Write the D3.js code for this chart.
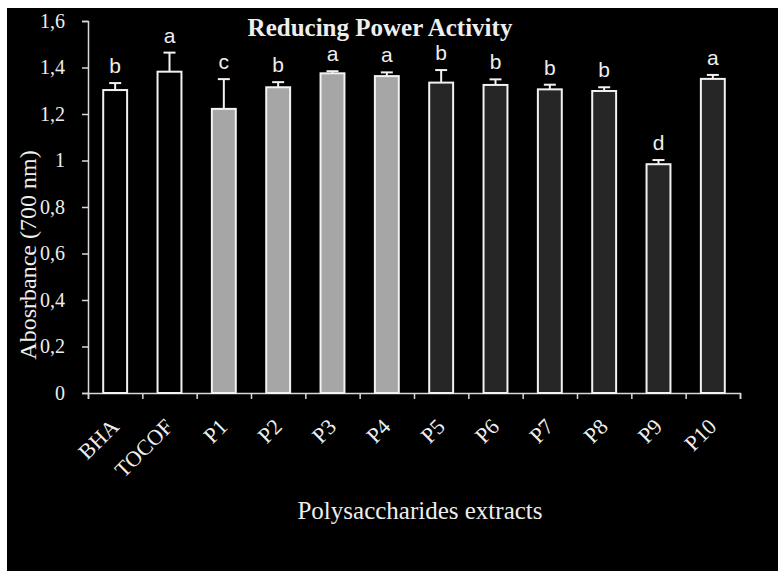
<!DOCTYPE html>
<html>
<head>
<meta charset="utf-8">
<script src="https://cdn.jsdelivr.net/npm/d3@7"></script>
<style>
  body { margin: 0; background: #fff; }
  svg { display: block; }
</style>
</head>
<body>
<svg id="chart" width="778" height="574"></svg>
<script>
// values
var categories = ['BHA', 'TOCOF', 'P1', 'P2', 'P3', 'P4', 'P5', 'P6', 'P7', 'P8', 'P9', 'P10'];
var values = [1.303, 1.382, 1.222, 1.315, 1.375, 1.363, 1.335, 1.325, 1.306, 1.299, 0.984, 1.351];
var errors = [0.030, 0.082, 0.128, 0.022, 0.009, 0.016, 0.054, 0.024, 0.020, 0.016, 0.018, 0.017];
var letters = ['b', 'a', 'c', 'b', 'a', 'a', 'b', 'b', 'b', 'b', 'd', 'a'];
var groups = ['std', 'std', 'g1', 'g1', 'g1', 'g1', 'g2', 'g2', 'g2', 'g2', 'g2', 'g2'];
var yTicks = [0, 0.2, 0.4, 0.6, 0.8, 1, 1.2, 1.4, 1.6];

var fills = {std: '#000', g1: '#a6a6a6', g2: '#262626'};
var serif = '"Liberation Serif", "Times New Roman", serif';
var sans = '"Liberation Sans", Arial, sans-serif';

var svg = d3.select('#chart');

svg.append('rect')
    .attr('x', 7).attr('y', 8)
    .attr('width', 771).attr('height', 563)
    .attr('fill', '#000');

var x = d3.scaleBand()
    .domain(categories)
    .range([88, 740])
    .paddingInner(0.56)
    .paddingOuter(0.28);

var xEdge = d3.scaleLinear().domain([0, categories.length]).range([88, 740]);

var y = d3.scaleLinear().domain([0, 1.6]).range([393, 21]);

var fmt = function(d) { return d3.format('.1~f')(d).replace('.', ','); };

// y axis
var yAxis = svg.append('g')
    .attr('transform', 'translate(88,0)')
    .call(d3.axisLeft(y).tickValues(yTicks).tickFormat(fmt).tickSize(6).tickPadding(17));
yAxis.selectAll('path, line').attr('stroke', '#d9d9d9').attr('stroke-width', 1.5);
yAxis.selectAll('text')
    .attr('fill', '#eee')
    .style('font-family', serif)
    .style('font-size', '20px');

// x axis: ticks on the category boundaries
var xAxis = svg.append('g')
    .attr('transform', 'translate(0,393)')
    .call(d3.axisBottom(xEdge).ticks(categories.length).tickFormat('').tickSize(6).tickSizeOuter(6));
xAxis.selectAll('path, line').attr('stroke', '#d9d9d9').attr('stroke-width', 1.5);

svg.append('g')
    .selectAll('text')
    .data(categories)
  .enter().append('text')
    .attr('transform', function(d) {
      return 'translate(' + (x(d) + x.bandwidth() / 2 + 5) + ',428) rotate(-45)';
    })
    .attr('text-anchor', 'end')
    .attr('fill', '#eee')
    .style('font-family', serif)
    .style('font-size', '22px')
    .text(function(d) { return d; });

// bars
svg.append('g')
    .selectAll('rect')
    .data(categories)
  .enter().append('rect')
    .attr('x', function(d) { return x(d); })
    .attr('y', function(d, i) { return y(values[i]); })
    .attr('width', x.bandwidth())
    .attr('height', function(d, i) { return y(0) - y(values[i]); })
    .attr('fill', function(d, i) { return fills[groups[i]]; })
    .attr('stroke', '#f2f2f2')
    .attr('stroke-width', 2);

// upper error whiskers
var err = svg.append('g').attr('stroke', '#f2f2f2').attr('stroke-width', 2);
err.selectAll('line.v')
    .data(categories)
  .enter().append('line')
    .attr('class', 'v')
    .attr('x1', function(d) { return x(d) + x.bandwidth() / 2; })
    .attr('x2', function(d) { return x(d) + x.bandwidth() / 2; })
    .attr('y1', function(d, i) { return y(values[i]); })
    .attr('y2', function(d, i) { return y(values[i] + errors[i]); });
err.selectAll('line.c')
    .data(categories)
  .enter().append('line')
    .attr('class', 'c')
    .attr('x1', function(d) { return x(d) + x.bandwidth() / 2 - 6; })
    .attr('x2', function(d) { return x(d) + x.bandwidth() / 2 + 6; })
    .attr('y1', function(d, i) { return y(values[i] + errors[i]); })
    .attr('y2', function(d, i) { return y(values[i] + errors[i]); });

// significance letters
svg.append('g')
    .selectAll('text')
    .data(categories)
  .enter().append('text')
    .attr('x', function(d) { return x(d) + x.bandwidth() / 2; })
    .attr('y', function(d, i) { return y(values[i] + errors[i]) - 10; })
    .attr('text-anchor', 'middle')
    .attr('fill', '#eee')
    .style('font-family', sans)
    .style('font-size', '21px')
    .text(function(d, i) { return letters[i]; });

// titles
svg.append('text')
    .attr('x', 380).attr('y', 36)
    .attr('text-anchor', 'middle')
    .attr('fill', '#eee')
    .style('font-family', serif)
    .style('font-weight', 'bold')
    .style('font-size', '25px')
    .text('Reducing Power Activity');

svg.append('text')
    .attr('x', 420).attr('y', 519)
    .attr('text-anchor', 'middle')
    .attr('fill', '#eee')
    .style('font-family', serif)
    .style('font-size', '25px')
    .text('Polysaccharides extracts');

svg.append('text')
    .attr('transform', 'translate(36,255) rotate(-90)')
    .attr('text-anchor', 'middle')
    .attr('fill', '#eee')
    .style('font-family', serif)
    .style('font-size', '24px')
    .text('Abosrbance (700 nm)');
</script>
</body>
</html>
